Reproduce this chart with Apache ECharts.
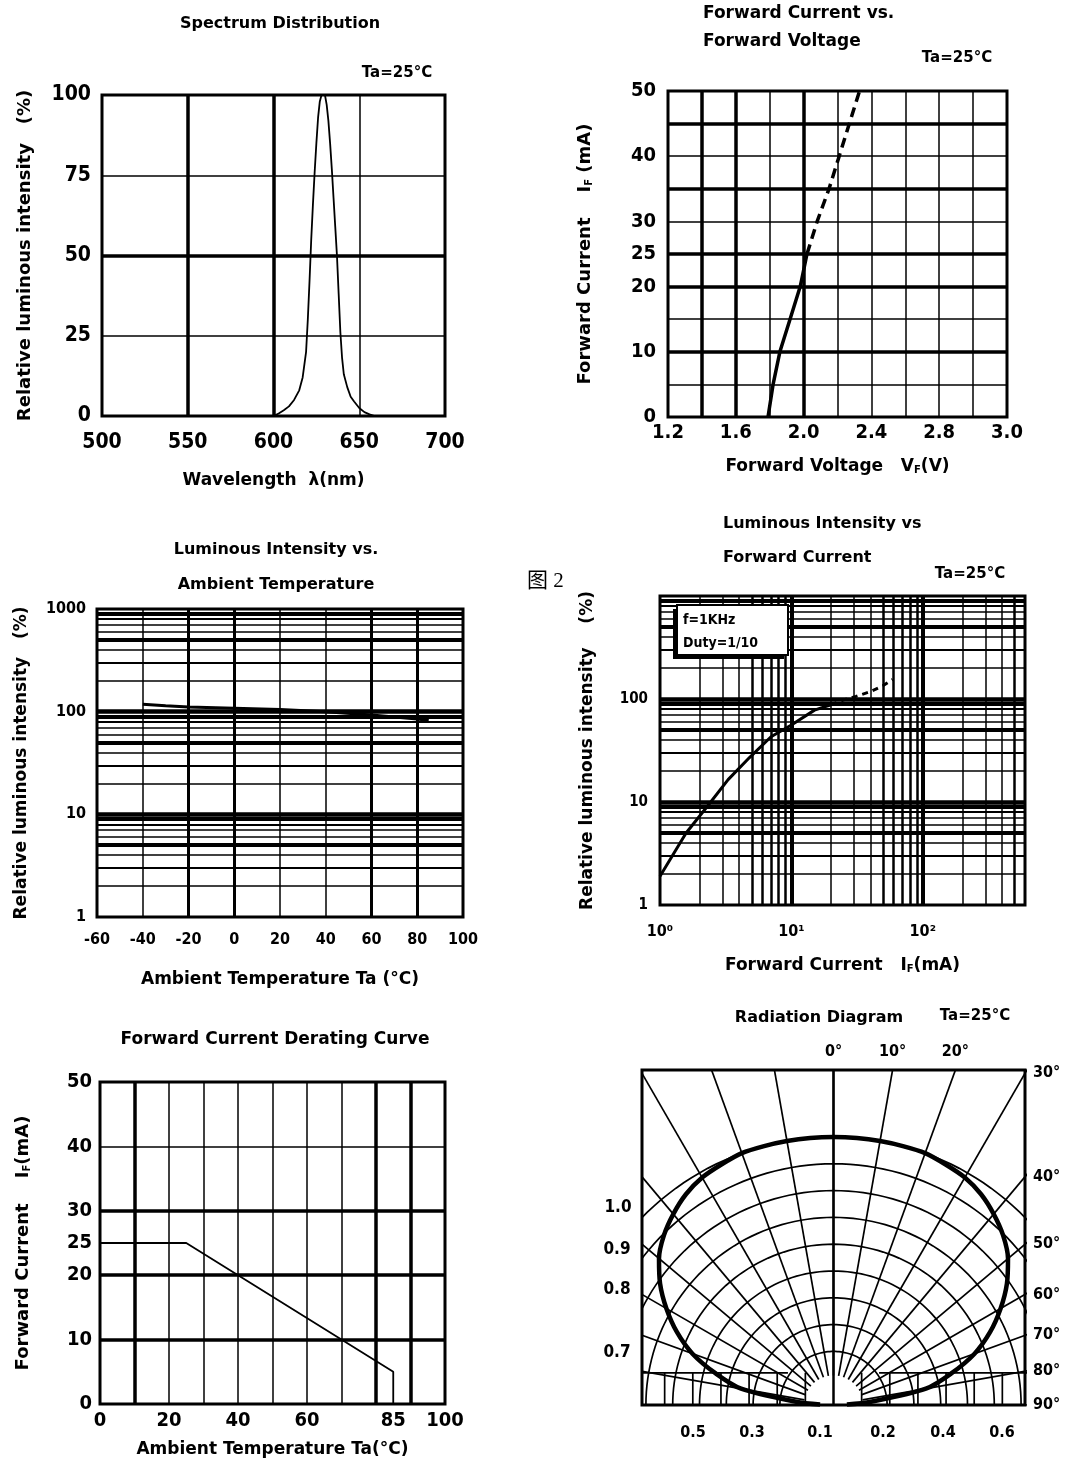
<!DOCTYPE html>
<html>
<head>
<meta charset="utf-8">
<title>LED characteristic curves</title>
<script src="https://cdn.jsdelivr.net/npm/echarts@6/dist/echarts.min.js"></script>
<style>
  html, body { margin: 0; padding: 0; background: #fff; }
  #chart { width: 1071px; height: 1463px; }
</style>
</head>
<body>
<div id="chart"></div>
<script>
// ---- values ----

// Spectrum Distribution
var specWavelength = [600, 603, 606, 609, 612, 615, 617, 619, 620, 621, 622, 623, 624, 625, 626, 627, 628, 629, 630, 631, 632, 633, 634, 635, 636, 637, 638, 639, 640, 641, 643, 645, 647, 650, 653, 656, 659];
var specIntensity = [0, 0.8, 1.8, 3, 5, 8, 12, 20, 30, 42, 55, 66, 76, 85, 93, 98, 100, 100, 100, 97, 92, 85, 77, 68, 59, 50, 38, 26, 18, 13, 9, 6, 4.5, 2.5, 1.2, 0.5, 0];

// Forward Current vs. Forward Voltage
var vfTickLabels = ['1.2', '', '1.6', '', '2.0', '', '2.4', '', '2.8', '', '3.0'];
var vfYLabels = [0, 10, 20, 25, 30, 40, 50];
var vfSolidV = [1.79, 1.82, 1.86, 1.92, 1.98, 2.02];
var vfSolidI = [0, 5, 10, 15, 20, 25];
var vfDashV = [2.02, 2.08, 2.15, 2.21, 2.27, 2.33];
var vfDashI = [25, 30, 35, 40, 45, 50];

// Luminous Intensity vs. Ambient Temperature
var taTemp = [-40, -30, -20, 0, 20, 40, 60, 80, 85];
var taRel = [118, 114, 111, 108, 105, 100, 93, 85, 82];

// Luminous Intensity vs Forward Current
var ifSolidI = [1, 1.58, 2.28, 3.3, 4.8, 7, 10, 15, 20];
var ifSolidRel = [1.9, 5, 9, 16.5, 27, 43, 56, 78, 88];
var ifDashI = [20, 25, 31, 40, 50, 59];
var ifDashRel = [88, 98, 106, 118, 135, 155];
var ifXLabels = { 1: '10\u2070', 10: '10\u00b9', 100: '10\u00b2' };

// Forward Current Derating Curve
var derTemp = [0, 25, 85, 85];
var derCurrent = [25, 25, 5, 0];
var derXLabels = [0, 20, 40, 60, 85, 100];
var derYLabels = [0, 10, 20, 25, 30, 40, 50];

// Radiation Diagram (angle from axis, relative intensity)
var radAngle = [-88, -85, -80, -75, -70, -65, -60, -55, -50, -45, -40, -35, -30, -25, -20, -15, -10, -5, 0, 5, 10, 15, 20, 25, 30, 35, 40, 45, 50, 55, 60, 65, 70, 75, 80, 85, 88];
var radRel = [0.05, 0.14, 0.35, 0.455, 0.56, 0.645, 0.72, 0.79, 0.85, 0.895, 0.93, 0.96, 0.98, 0.99, 1.0, 1.0, 1.0, 1.0, 1.0, 1.0, 1.0, 1.0, 1.0, 0.99, 0.98, 0.96, 0.93, 0.895, 0.85, 0.79, 0.72, 0.645, 0.56, 0.455, 0.35, 0.14, 0.05];
var radArcRadii = [0.2, 0.3, 0.4, 0.5, 0.6, 0.7, 0.8, 0.9, 1.0];
var radSpokeAngles = [-90, -80, -70, -60, -50, -40, -30, -20, -10, 0, 10, 20, 30, 40, 50, 60, 70, 80, 90];
var radTopAngles = [0, 10, 20];
var radRightAngles = [30, 40, 50, 60, 70, 80, 90];
var radLeftLabels = ['1.0', '0.9', '0.8', '0.7'];
var radBottomLabels = ['0.5', '0.3', '0.1', '0.2', '0.4', '0.6'];

// ---- layout / style ----
var FONT = '"DejaVu Sans Condensed", "DejaVu Sans", sans-serif';
var TEXT_FONT = '"DejaVu Sans", sans-serif';
var BLACK = '#000';
var LOG_STEPS = [2, 3, 4, 5, 6, 7, 8, 9];
var LOG_Y_WIDTHS = [1.5, 1.8, 1.5, 4, 1.5, 1.5, 2, 4];
var LOG_X_WIDTHS = [1.5, 1.5, 1.5, 2.5, 2.5, 2.5, 2.5, 2.5];
var RAD_W = 383 / 268 / 2;   // half width of the radiation frame, in units of r = 1
var RAD_H = 335 / 268;
var RAD_STRIP_STEP = 0.105;
var RAD_STRIP_H = 0.12;
var radLeftPos = [[618, 1208], [617, 1250], [617, 1290], [617, 1353]];
var radBottomX = [693, 752, 820, 883, 943, 1002];

function zip(xs, ys) {
  return xs.map(function (x, i) { return [x, ys[i]]; });
}

function thickLines(key, values, width) {
  return values.map(function (v) {
    var d = { lineStyle: { width: width } };
    d[key] = v;
    return d;
  });
}

function logMinor(key, decades, maxVal, widths) {
  var out = [];
  decades.forEach(function (d) {
    LOG_STEPS.forEach(function (m, i) {
      var v = m * d;
      if (v < maxVal) out.push({ value: v, width: widths[i] });
    });
  });
  return out.map(function (o) {
    var d = { lineStyle: { width: o.width } };
    d[key] = o.value;
    return d;
  });
}

function markLines(data) {
  return {
    silent: true,
    symbol: ['none', 'none'],
    label: { show: false },
    emphasis: { disabled: true },
    lineStyle: { color: BLACK, type: 'solid', width: 3 },
    data: data
  };
}

function labelStyle(size, margin) {
  return { fontFamily: FONT, fontWeight: 'bold', fontSize: size, color: BLACK, margin: margin };
}

function nameStyle(size) {
  return {
    fontFamily: TEXT_FONT, fontWeight: 'bold', fontSize: size, color: BLACK,
    rich: { s: { fontFamily: TEXT_FONT, fontWeight: 'bold', fontSize: 10, verticalAlign: 'bottom', color: BLACK } }
  };
}

function baseAxis(extra) {
  return Object.assign({
    type: 'value',
    axisLine: { show: false },
    axisTick: { show: false },
    splitLine: { show: true, lineStyle: { color: BLACK, width: 1.5 } },
    nameLocation: 'middle'
  }, extra);
}

function txt(x, y, s, size, align, weight, family) {
  return {
    type: 'text', x: x, y: y, z: 100,
    style: {
      text: s, fill: BLACK,
      fontFamily: family || TEXT_FONT, fontWeight: weight || 'bold', fontSize: size,
      align: align, textAlign: align, verticalAlign: 'middle', textVerticalAlign: 'middle'
    }
  };
}

// radiation diagram grid: arcs, spokes and the small lattice at the bottom
var radGrid = [];
radArcRadii.forEach(function (r) {
  var pts = [];
  for (var a = -90; a <= 90; a += 2) {
    var t = a * Math.PI / 180;
    pts.push([r * Math.sin(t), r * Math.cos(t)]);
  }
  radGrid.push(pts);
});
radSpokeAngles.forEach(function (a) {
  var t = a * Math.PI / 180;
  var r0 = 0.11;
  radGrid.push([[r0 * Math.sin(t), r0 * Math.cos(t)], [2 * Math.sin(t), 2 * Math.cos(t)]]);
});
radGrid.push([[-1, RAD_STRIP_H], [-0.17, RAD_STRIP_H]]);
radGrid.push([[0.17, RAD_STRIP_H], [1, RAD_STRIP_H]]);
for (var k = 1; k <= 6; k++) {
  radGrid.push([[-k * RAD_STRIP_STEP, 0], [-k * RAD_STRIP_STEP, RAD_STRIP_H]]);
  radGrid.push([[k * RAD_STRIP_STEP, 0], [k * RAD_STRIP_STEP, RAD_STRIP_H]]);
}

var radCurve = radAngle.map(function (a, i) {
  var t = a * Math.PI / 180;
  return [radRel[i] * Math.sin(t), radRel[i] * Math.cos(t)];
});

var radTopPos = radTopAngles.map(function (a) { return RAD_H * Math.tan(a * Math.PI / 180); });
var radRightPos = radRightAngles.map(function (a) { return RAD_W / Math.tan(a * Math.PI / 180); });

function pickLabel(positions, labels) {
  return function (v) {
    for (var i = 0; i < positions.length; i++) {
      if (Math.abs(positions[i] - v) < 1e-4) return labels[i] + '\u00b0';
    }
    return '';
  };
}

var chart = echarts.init(document.getElementById('chart'));

var grids = [
  { left: 102, top: 95, width: 343, height: 321 },
  { left: 668, top: 91, width: 339, height: 326 },
  { left: 97, top: 609, width: 366, height: 308 },
  { left: 660, top: 596, width: 365, height: 309 },
  { left: 100, top: 1082, width: 345, height: 322 },
  { left: 642, top: 1070, width: 383, height: 335 }
].map(function (g) {
  return Object.assign({ show: true, borderColor: BLACK, borderWidth: 3, containLabel: false }, g);
});

var option = {
  backgroundColor: '#fff',
  animation: false,
  grid: grids,
  xAxis: [
    baseAxis({ gridIndex: 0, min: 500, max: 700, interval: 50, axisLabel: labelStyle(21, 16),
      name: 'Wavelength  \u03bb(nm)', nameGap: 56, nameTextStyle: nameStyle(17) }),
    baseAxis({ gridIndex: 1, min: 1.2, max: 3.2, interval: 0.2,
      axisLabel: Object.assign(labelStyle(20, 6), {
        formatter: function (v) { return vfTickLabels[Math.round((v - 1.2) / 0.2)] || ''; }
      }),
      name: 'Forward Voltage   V{s|F}(V)', nameGap: 41, nameTextStyle: nameStyle(17) }),
    baseAxis({ gridIndex: 2, min: -60, max: 100, interval: 20, axisLabel: labelStyle(16, 15),
      name: 'Ambient Temperature Ta (\u00b0C)', nameGap: 54, nameTextStyle: nameStyle(17) }),
    baseAxis({ gridIndex: 3, type: 'log', logBase: 10, min: 1, max: 600,
      axisLabel: Object.assign(labelStyle(16, 19), {
        formatter: function (v) { return ifXLabels[Math.round(v)] || ''; }
      }),
      name: 'Forward Current   I{s|F}(mA)', nameGap: 52, nameTextStyle: nameStyle(17) }),
    baseAxis({ gridIndex: 4, min: 0, max: 100, interval: 10,
      axisLabel: Object.assign(labelStyle(20, 7), { customValues: derXLabels }),
      name: 'Ambient Temperature Ta(\u00b0C)', nameGap: 37, nameTextStyle: nameStyle(17) }),
    baseAxis({ gridIndex: 5, min: -RAD_W, max: RAD_W, show: false }),
    baseAxis({ gridIndex: 5, min: -RAD_W, max: RAD_W, position: 'top', splitLine: { show: false },
      axisLabel: Object.assign(labelStyle(16, 10), {
        customValues: radTopPos, formatter: pickLabel(radTopPos, radTopAngles)
      }) })
  ],
  yAxis: [
    baseAxis({ gridIndex: 0, min: 0, max: 100, interval: 25, axisLabel: labelStyle(21, 11),
      name: 'Relative luminous intensity   (%)', nameRotate: 90, nameGap: 68, nameTextStyle: nameStyle(18) }),
    baseAxis({ gridIndex: 1, min: 0, max: 50, interval: 5,
      axisLabel: Object.assign(labelStyle(20, 12), { customValues: vfYLabels }),
      name: 'Forward Current    I{s|F} (mA)', nameRotate: 90, nameGap: 74, nameTextStyle: nameStyle(18) }),
    baseAxis({ gridIndex: 2, type: 'log', logBase: 10, min: 1, max: 1000,
      axisLabel: Object.assign(labelStyle(16, 11), { formatter: function (v) { return String(Math.round(v)); } }),
      name: 'Relative luminous intensity   (%)', nameRotate: 90, nameGap: 67, nameTextStyle: nameStyle(17) }),
    baseAxis({ gridIndex: 3, type: 'log', logBase: 10, min: 1, max: 1000,
      axisLabel: Object.assign(labelStyle(15, 12), {
        formatter: function (v) { var n = Math.round(v); return n < 1000 ? String(n) : ''; }
      }),
      name: 'Relative luminous intensity    (%)', nameRotate: 90, nameGap: 64, nameTextStyle: nameStyle(17) }),
    baseAxis({ gridIndex: 4, min: 0, max: 50, interval: 10,
      axisLabel: Object.assign(labelStyle(20, 8), { customValues: derYLabels }),
      name: 'Forward Current    I{s|F}(mA)', nameRotate: 90, nameGap: 68, nameTextStyle: nameStyle(18) }),
    baseAxis({ gridIndex: 5, min: 0, max: RAD_H, show: false }),
    baseAxis({ gridIndex: 5, min: 0, max: RAD_H, position: 'right', splitLine: { show: false },
      axisLabel: Object.assign(labelStyle(16, 8), {
        customValues: radRightPos, formatter: pickLabel(radRightPos, radRightAngles)
      }) })
  ],
  series: [
    {
      type: 'line', xAxisIndex: 0, yAxisIndex: 0, symbol: 'none', silent: true,
      data: zip(specWavelength, specIntensity),
      lineStyle: { color: BLACK, width: 1.8 },
      markLine: markLines(thickLines('xAxis', [550, 600], 3.5).concat(thickLines('yAxis', [50], 3.5)))
    },
    {
      type: 'line', xAxisIndex: 1, yAxisIndex: 1, symbol: 'none', silent: true,
      data: zip(vfSolidV, vfSolidI),
      lineStyle: { color: BLACK, width: 3.5 },
      markLine: markLines(thickLines('yAxis', [10, 20, 25, 35, 45], 3.5).concat(thickLines('xAxis', [1.4, 1.6, 2.0], 3.5)))
    },
    {
      type: 'line', xAxisIndex: 1, yAxisIndex: 1, symbol: 'none', silent: true,
      data: zip(vfDashV, vfDashI),
      lineStyle: { color: BLACK, width: 3.5, type: [10, 6] }
    },
    {
      type: 'line', xAxisIndex: 2, yAxisIndex: 2, symbol: 'none', silent: true,
      data: zip(taTemp, taRel),
      lineStyle: { color: BLACK, width: 3 },
      markLine: markLines(
        logMinor('yAxis', [1, 10, 100], 1000, LOG_Y_WIDTHS)
          .concat(thickLines('yAxis', [10, 100], 4.5))
          .concat(thickLines('xAxis', [-20, 0, 60, 80], 3))
      )
    },
    {
      type: 'line', xAxisIndex: 3, yAxisIndex: 3, symbol: 'none', silent: true,
      data: zip(ifSolidI, ifSolidRel),
      lineStyle: { color: BLACK, width: 3 },
      markLine: markLines(
        logMinor('yAxis', [1, 10, 100], 1000, LOG_Y_WIDTHS)
          .concat(thickLines('yAxis', [10, 100], 4.5))
          .concat(logMinor('xAxis', [1, 10, 100], 600, LOG_X_WIDTHS))
          .concat(thickLines('xAxis', [10, 100], 4))
      )
    },
    {
      type: 'line', xAxisIndex: 3, yAxisIndex: 3, symbol: 'none', silent: true,
      data: zip(ifDashI, ifDashRel),
      lineStyle: { color: BLACK, width: 3, type: [6, 5] }
    },
    {
      type: 'line', xAxisIndex: 4, yAxisIndex: 4, symbol: 'none', silent: true,
      data: zip(derTemp, derCurrent),
      lineStyle: { color: BLACK, width: 1.8 },
      markLine: markLines(thickLines('yAxis', [10, 20, 30], 3.5).concat(thickLines('xAxis', [10, 80, 90], 3.5)))
    },
    {
      type: 'lines', coordinateSystem: 'cartesian2d', xAxisIndex: 5, yAxisIndex: 5,
      polyline: true, clip: true, silent: true,
      lineStyle: { color: BLACK, width: 1.7, opacity: 1 },
      data: radGrid.map(function (c) { return { coords: c }; })
    },
    {
      type: 'line', xAxisIndex: 5, yAxisIndex: 5, symbol: 'none', silent: true,
      data: [[0, 0], [0, RAD_H]],
      lineStyle: { color: BLACK, width: 2.5 }
    },
    {
      type: 'line', xAxisIndex: 5, yAxisIndex: 5, symbol: 'none', silent: true, smooth: 0.3,
      data: radCurve,
      lineStyle: { color: BLACK, width: 4.5 }
    }
  ],
  graphic: [
    txt(280, 24, 'Spectrum Distribution', 16, 'center'),
    txt(397, 73, 'Ta=25\u00b0C', 15, 'center'),
    txt(703, 14, 'Forward Current vs.', 17, 'left'),
    txt(703, 42, 'Forward Voltage', 17, 'left'),
    txt(957, 58, 'Ta=25\u00b0C', 15, 'center'),
    txt(276, 550, 'Luminous Intensity vs.', 16, 'center'),
    txt(276, 585, 'Ambient Temperature', 16, 'center'),
    txt(723, 524, 'Luminous Intensity vs', 16, 'left'),
    txt(723, 558, 'Forward Current', 16, 'left'),
    txt(970, 574, 'Ta=25\u00b0C', 15, 'center'),
    txt(527, 581, '\u56fe 2', 21, 'left', 'normal', '"Liberation Serif", "Noto Sans CJK SC", serif'),
    txt(275, 1040, 'Forward Current Derating Curve', 17, 'center'),
    txt(819, 1018, 'Radiation Diagram', 16, 'center'),
    txt(975, 1016, 'Ta=25\u00b0C', 15, 'center'),
    {
      type: 'group', z: 100,
      children: [
        { type: 'rect', z: 100, shape: { x: 673, y: 609, width: 111, height: 50 }, style: { fill: BLACK } },
        { type: 'rect', z: 101, shape: { x: 677, y: 605, width: 111, height: 50 }, style: { fill: '#fff', stroke: BLACK, lineWidth: 2 } },
        Object.assign(txt(683, 620, 'f=1KHz', 14, 'left', 'bold', FONT), { z: 102 }),
        Object.assign(txt(683, 643, 'Duty=1/10', 14, 'left', 'bold', FONT), { z: 102 })
      ]
    }
  ].concat(radLeftLabels.map(function (s, i) {
    return txt(radLeftPos[i][0], radLeftPos[i][1], s, 17, 'center', 'bold', FONT);
  })).concat(radBottomLabels.map(function (s, i) {
    return txt(radBottomX[i], 1433, s, 16, 'center', 'bold', FONT);
  }))
};

chart.setOption(option);
</script>
</body>
</html>
